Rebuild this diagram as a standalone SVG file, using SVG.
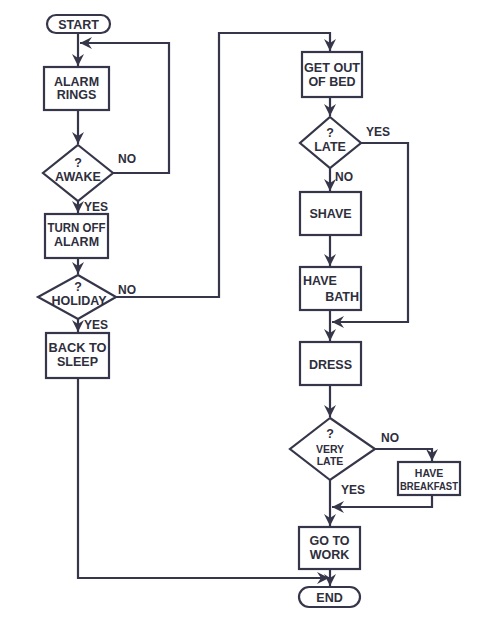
<svg xmlns="http://www.w3.org/2000/svg" width="500" height="637" viewBox="0 0 500 637">
<style>
.s{fill:#fff;stroke:#36364a;stroke-width:2.2}
.c{fill:none;stroke:#36364a;stroke-width:2.2;marker-end:url(#ah)}
text{font-family:"Liberation Sans",Arial,sans-serif;font-weight:bold;font-size:12.5px;fill:#2e2e3c;text-anchor:middle}
.lab{font-size:12px;text-anchor:start}
.sm{font-size:10.5px}
</style>
<defs>
<marker id="ah" markerUnits="userSpaceOnUse" markerWidth="14" markerHeight="14" refX="12" refY="6" orient="auto">
<path d="M0,0 L12,6 L0,12 L4,6 z" fill="#36364a"/>
</marker>
</defs>
<rect width="500" height="637" fill="#fff"/>
<g id="connectors">
<path class="c" d="M78,33 V66"/>
<path class="c" d="M113,173 H169 V43 H80"/>
<path class="c" d="M78,110 V144"/>
<path class="c" d="M78,200 V213"/>
<path class="c" d="M78,258 V274"/>
<path class="c" d="M115,297 H219 V33 H330 V51"/>
<path class="c" d="M78,318 V332"/>
<path class="c" d="M78,378 V578 H329"/>
<path class="c" d="M330,97 V116"/>
<path class="c" d="M361,143 H408 V322 H332"/>
<path class="c" d="M330,168 V191"/>
<path class="c" d="M330,235 V266"/>
<path class="c" d="M330,310 V341"/>
<path class="c" d="M330,385 V417"/>
<path class="c" d="M375,449 H432 V461"/>
<path class="c" d="M432,495 V507 H332"/>
<path class="c" d="M330,480 V526"/>
<path class="c" d="M330,569 V586"/>
<text class="lab" x="118" y="163">NO</text>
<text class="lab" x="84" y="211">YES</text>
<text class="lab" x="118" y="294">NO</text>
<text class="lab" x="84" y="329">YES</text>
<text class="lab" x="366" y="136">YES</text>
<text class="lab" x="335" y="181">NO</text>
<text class="lab" x="381" y="442">NO</text>
<text class="lab" x="341" y="494">YES</text>
</g>
<g id="start"><rect class="s" x="47" y="15" width="63" height="18" rx="9"/><text x="78.5" y="28.5">START</text></g>
<g id="alarm_rings"><rect class="s" x="44" y="67" width="65" height="43"/><text x="76.5" y="86">ALARM</text><text x="76.5" y="99">RINGS</text></g>
<g id="awake"><polygon class="s" points="78,145 113,173 78,201 43,173"/><text x="78" y="167">?</text><text x="78" y="181">AWAKE</text></g>
<g id="turn_off_alarm"><rect class="s" x="45" y="214" width="63" height="44"/><text x="76.5" y="232" textLength="58" lengthAdjust="spacingAndGlyphs">TURN OFF</text><text x="76.5" y="246">ALARM</text></g>
<g id="holiday"><polygon class="s" points="78,275 116,297 78,319 38,297"/><text x="78" y="291">?</text><text x="79" y="305">HOLIDAY</text></g>
<g id="back_to_sleep"><rect class="s" x="46" y="333" width="63" height="45"/><text x="77.5" y="352" textLength="58" lengthAdjust="spacingAndGlyphs">BACK TO</text><text x="77.5" y="366">SLEEP</text></g>
<g id="get_out_of_bed"><rect class="s" x="302" y="52" width="60" height="45"/><text x="332" y="72" textLength="56" lengthAdjust="spacingAndGlyphs">GET OUT</text><text x="332" y="86">OF BED</text></g>
<g id="late"><polygon class="s" points="330,117 361,143 330,168 300,143"/><text x="330" y="137">?</text><text x="330" y="151">LATE</text></g>
<g id="shave"><rect class="s" x="300" y="192" width="61" height="43"/><text x="330.5" y="218">SHAVE</text></g>
<g id="have_bath"><rect class="s" x="300" y="267" width="61" height="43"/><text x="303" y="285" style="text-anchor:start">HAVE</text><text x="359" y="301" style="text-anchor:end">BATH</text></g>
<g id="dress"><rect class="s" x="300" y="342" width="61" height="43"/><text x="330.5" y="369">DRESS</text></g>
<g id="very_late"><polygon class="s" points="330,418 375,449 330,480 290,449"/><text x="330" y="438">?</text><text class="sm" x="330" y="453">VERY</text><text class="sm" x="330" y="465">LATE</text></g>
<g id="have_breakfast"><rect class="s" x="398" y="462" width="62" height="33"/><text class="sm" x="429" y="477">HAVE</text><text class="sm" x="429" y="490" textLength="58" lengthAdjust="spacingAndGlyphs">BREAKFAST</text></g>
<g id="go_to_work"><rect class="s" x="299" y="527" width="61" height="42"/><text x="329.5" y="545">GO TO</text><text x="329.5" y="559">WORK</text></g>
<g id="end"><rect class="s" x="299" y="587" width="61" height="20" rx="10"/><text x="329.5" y="601.5">END</text></g>
</svg>
